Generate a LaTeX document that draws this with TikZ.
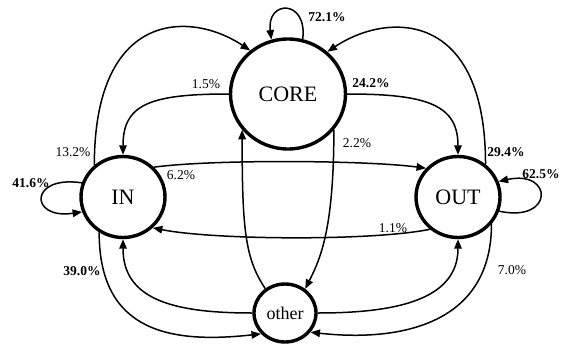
\documentclass[tikz,border=0pt]{standalone}
\usepackage{fontspec}
\setmainfont{Liberation Serif}
\usetikzlibrary{arrows.meta,shapes.geometric}

\begin{document}
\begin{tikzpicture}[x=1pt, y=1pt,
    state/.style={draw, ellipse, line width=3.4pt, inner sep=0pt},
    flow/.style={-{Triangle[length=9.5pt,width=7.5pt]}, line width=1.5pt},
    pct/.style={font=\fontsize{13.5}{15}\selectfont, inner sep=0pt},
    pctb/.style={font=\fontsize{13.5}{15}\selectfont\bfseries, inner sep=0pt}]
    \useasboundingbox (0,0) rectangle (561,346);

    % States
    \node[state, minimum width=115pt, minimum height=110pt, font=\fontsize{22}{26}\selectfont] (core) at (288,252) {CORE};
    \node[state, minimum width=84pt, minimum height=81pt, font=\fontsize{22}{26}\selectfont] (in) at (123,149) {IN};
    \node[state, minimum width=84pt, minimum height=81pt, font=\fontsize{22}{26}\selectfont] (out) at (458,149) {OUT};
    \node[state, minimum width=62pt, minimum height=58pt, font=\fontsize{18}{22}\selectfont] (oth) at (285,33) {other};

    % Self loops
    \draw[flow] (core.75) .. controls +(5,40) and +(-5,40) .. (core.107);
    \draw[flow] (in.161) .. controls +(-53,8) and +(-53,-8) .. (in.200);
    \draw[flow] (out.-19) .. controls +(55,-12) and +(55,12) .. (out.21);

    % Arches over the top
    \draw[flow] (in.132) .. controls +(0,155) and +(-60,40) .. (core.131);
    \draw[flow] (out.50) .. controls +(0,155) and +(60,40) .. (core.47);

    % CORE down to IN and OUT
    \draw[flow] (core.180) .. controls +(-80,0) and +(0,50) .. (in.90);
    \draw[flow] (core.0) .. controls +(80,0) and +(0,50) .. (out.90);

    % IN <-> OUT
    \draw[flow] (in.44) .. controls +(60,8) and +(-60,8) .. (out.138);
    \draw[flow] (out.229) .. controls +(-60,-12) and +(60,-12) .. (in.314);

    % other
    \draw[flow] (oth.129) .. controls +(-20,30) and +(0,-100) .. (core.218);
    \draw[flow] (core.322) .. controls +(0,-100) and +(15,30) .. (oth.50);
    \draw[flow] (oth.180) .. controls +(-80,0) and +(0,-60) .. (in.270);
    \draw[flow] (oth.0) .. controls +(80,0) and +(0,-60) .. (out.270);
    \draw[flow] (in.236) .. controls +(0,-100) and +(-90,-10) .. (oth.221);
    \draw[flow] (out.321) .. controls +(0,-100) and +(90,-10) .. (oth.323);

    % Percentages
    \node[pctb] (pcore) at (327,329) {72.1\%};
    \node[pct] (pincore) at (73,194) {13.2\%};
    \node[pct] (pcorein) at (206,262) {1.5\%};
    \node[pct] (pinout) at (181,171) {6.2\%};
    \node[pctb] (pcoreout) at (371,263) {24.2\%};
    \node[pct] (pcoreoth) at (357,203) {2.2\%};
    \node[pctb] (poutcore) at (506,194) {29.4\%};
    \node[pctb] (pout) at (541,172) {62.5\%};
    \node[pctb] (pin) at (31,163) {41.6\%};
    \node[pct] (poutin) at (393,118) {1.1\%};
    \node[pctb] (pinoth) at (82,75) {39.0\%};
    \node[pct] (poutoth) at (512,76) {7.0\%};
\end{tikzpicture}
\end{document}
